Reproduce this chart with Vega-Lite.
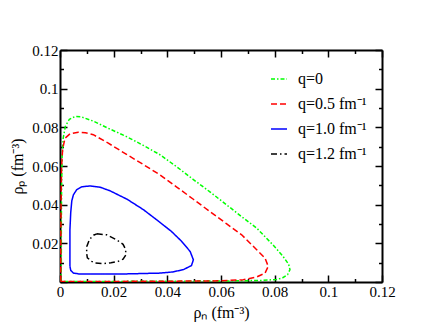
{
  "$schema": "https://vega.github.io/schema/vega-lite/v6.json",
  "width": 322,
  "height": 232,
  "autosize": "none",
  "padding": {"left": 60, "top": 50, "right": 48, "bottom": 50},
  "background": "white",
  "config": {
    "view": {"stroke": null},
    "font": "Liberation Serif",
    "axis": {
      "grid": false,
      "domainColor": "black",
      "domainWidth": 2,
      "tickColor": "black",
      "tickWidth": 1.5,
      "tickSize": -7,
      "labelColor": "black",
      "titleColor": "black",
      "labelFont": "Liberation Serif",
      "titleFont": "Liberation Serif",
      "labelFontSize": 15,
      "titleFontSize": 16,
      "titleFontWeight": "normal"
    },
    "legend": {"labelFont": "Liberation Serif"}
  },
  "data": {"values": [
    {"q":"q=0","rn":0.0004,"rp":0.0003,"i":0},
    {"q":"q=0","rn":0.0005,"rp":0.01,"i":1},
    {"q":"q=0","rn":0.0005,"rp":0.03,"i":2},
    {"q":"q=0","rn":0.0006,"rp":0.05,"i":3},
    {"q":"q=0","rn":0.0008,"rp":0.065,"i":4},
    {"q":"q=0","rn":0.0012,"rp":0.0745,"i":5},
    {"q":"q=0","rn":0.002,"rp":0.0805,"i":6},
    {"q":"q=0","rn":0.0035,"rp":0.0842,"i":7},
    {"q":"q=0","rn":0.0056,"rp":0.0856,"i":8},
    {"q":"q=0","rn":0.008,"rp":0.0854,"i":9},
    {"q":"q=0","rn":0.0124,"rp":0.0832,"i":10},
    {"q":"q=0","rn":0.018,"rp":0.0795,"i":11},
    {"q":"q=0","rn":0.0248,"rp":0.0752,"i":12},
    {"q":"q=0","rn":0.031,"rp":0.0707,"i":13},
    {"q":"q=0","rn":0.0373,"rp":0.0658,"i":14},
    {"q":"q=0","rn":0.0435,"rp":0.0596,"i":15},
    {"q":"q=0","rn":0.0497,"rp":0.053,"i":16},
    {"q":"q=0","rn":0.056,"rp":0.0465,"i":17},
    {"q":"q=0","rn":0.0621,"rp":0.0399,"i":18},
    {"q":"q=0","rn":0.0675,"rp":0.034,"i":19},
    {"q":"q=0","rn":0.0733,"rp":0.0279,"i":20},
    {"q":"q=0","rn":0.0795,"rp":0.019,"i":21},
    {"q":"q=0","rn":0.083,"rp":0.0135,"i":22},
    {"q":"q=0","rn":0.0852,"rp":0.0092,"i":23},
    {"q":"q=0","rn":0.0857,"rp":0.0064,"i":24},
    {"q":"q=0","rn":0.0848,"rp":0.0038,"i":25},
    {"q":"q=0","rn":0.083,"rp":0.0022,"i":26},
    {"q":"q=0","rn":0.0808,"rp":0.0013,"i":27},
    {"q":"q=0","rn":0.075,"rp":0.0008,"i":28},
    {"q":"q=0","rn":0.06,"rp":0.0005,"i":29},
    {"q":"q=0","rn":0.04,"rp":0.0004,"i":30},
    {"q":"q=0","rn":0.02,"rp":0.0003,"i":31},
    {"q":"q=0","rn":0.0004,"rp":0.0003,"i":32},

    {"q":"q=0.5 fm⁻¹","rn":0.0003,"rp":0.0003,"i":0},
    {"q":"q=0.5 fm⁻¹","rn":0.0003,"rp":0.02,"i":1},
    {"q":"q=0.5 fm⁻¹","rn":0.0004,"rp":0.04,"i":2},
    {"q":"q=0.5 fm⁻¹","rn":0.0006,"rp":0.06,"i":3},
    {"q":"q=0.5 fm⁻¹","rn":0.001,"rp":0.069,"i":4},
    {"q":"q=0.5 fm⁻¹","rn":0.0019,"rp":0.0744,"i":5},
    {"q":"q=0.5 fm⁻¹","rn":0.0037,"rp":0.0766,"i":6},
    {"q":"q=0.5 fm⁻¹","rn":0.0068,"rp":0.0775,"i":7},
    {"q":"q=0.5 fm⁻¹","rn":0.0095,"rp":0.0772,"i":8},
    {"q":"q=0.5 fm⁻¹","rn":0.0124,"rp":0.0762,"i":9},
    {"q":"q=0.5 fm⁻¹","rn":0.018,"rp":0.0718,"i":10},
    {"q":"q=0.5 fm⁻¹","rn":0.0248,"rp":0.066,"i":11},
    {"q":"q=0.5 fm⁻¹","rn":0.031,"rp":0.0608,"i":12},
    {"q":"q=0.5 fm⁻¹","rn":0.0373,"rp":0.0554,"i":13},
    {"q":"q=0.5 fm⁻¹","rn":0.0435,"rp":0.0491,"i":14},
    {"q":"q=0.5 fm⁻¹","rn":0.0497,"rp":0.0428,"i":15},
    {"q":"q=0.5 fm⁻¹","rn":0.056,"rp":0.0363,"i":16},
    {"q":"q=0.5 fm⁻¹","rn":0.062,"rp":0.0302,"i":17},
    {"q":"q=0.5 fm⁻¹","rn":0.0677,"rp":0.0244,"i":18},
    {"q":"q=0.5 fm⁻¹","rn":0.0733,"rp":0.0167,"i":19},
    {"q":"q=0.5 fm⁻¹","rn":0.0764,"rp":0.0124,"i":20},
    {"q":"q=0.5 fm⁻¹","rn":0.0776,"rp":0.0081,"i":21},
    {"q":"q=0.5 fm⁻¹","rn":0.0764,"rp":0.0046,"i":22},
    {"q":"q=0.5 fm⁻¹","rn":0.0733,"rp":0.0026,"i":23},
    {"q":"q=0.5 fm⁻¹","rn":0.0683,"rp":0.0012,"i":24},
    {"q":"q=0.5 fm⁻¹","rn":0.06,"rp":0.0006,"i":25},
    {"q":"q=0.5 fm⁻¹","rn":0.04,"rp":0.0004,"i":26},
    {"q":"q=0.5 fm⁻¹","rn":0.02,"rp":0.0003,"i":27},
    {"q":"q=0.5 fm⁻¹","rn":0.0003,"rp":0.0003,"i":28},

    {"q":"q=1.0 fm⁻¹","rn":0.0037,"rp":0.0081,"i":0},
    {"q":"q=1.0 fm⁻¹","rn":0.0037,"rp":0.015,"i":1},
    {"q":"q=1.0 fm⁻¹","rn":0.0037,"rp":0.027,"i":2},
    {"q":"q=1.0 fm⁻¹","rn":0.004,"rp":0.036,"i":3},
    {"q":"q=1.0 fm⁻¹","rn":0.0044,"rp":0.042,"i":4},
    {"q":"q=1.0 fm⁻¹","rn":0.005,"rp":0.0451,"i":5},
    {"q":"q=1.0 fm⁻¹","rn":0.0062,"rp":0.0477,"i":6},
    {"q":"q=1.0 fm⁻¹","rn":0.008,"rp":0.0492,"i":7},
    {"q":"q=1.0 fm⁻¹","rn":0.0112,"rp":0.0497,"i":8},
    {"q":"q=1.0 fm⁻¹","rn":0.015,"rp":0.049,"i":9},
    {"q":"q=1.0 fm⁻¹","rn":0.0186,"rp":0.0472,"i":10},
    {"q":"q=1.0 fm⁻¹","rn":0.025,"rp":0.0428,"i":11},
    {"q":"q=1.0 fm⁻¹","rn":0.0311,"rp":0.0374,"i":12},
    {"q":"q=1.0 fm⁻¹","rn":0.036,"rp":0.0322,"i":13},
    {"q":"q=1.0 fm⁻¹","rn":0.0415,"rp":0.0262,"i":14},
    {"q":"q=1.0 fm⁻¹","rn":0.0452,"rp":0.0212,"i":15},
    {"q":"q=1.0 fm⁻¹","rn":0.0485,"rp":0.0158,"i":16},
    {"q":"q=1.0 fm⁻¹","rn":0.0497,"rp":0.0115,"i":17},
    {"q":"q=1.0 fm⁻¹","rn":0.049,"rp":0.0085,"i":18},
    {"q":"q=1.0 fm⁻¹","rn":0.046,"rp":0.0064,"i":19},
    {"q":"q=1.0 fm⁻¹","rn":0.042,"rp":0.0052,"i":20},
    {"q":"q=1.0 fm⁻¹","rn":0.0373,"rp":0.0046,"i":21},
    {"q":"q=1.0 fm⁻¹","rn":0.025,"rp":0.0042,"i":22},
    {"q":"q=1.0 fm⁻¹","rn":0.015,"rp":0.0041,"i":23},
    {"q":"q=1.0 fm⁻¹","rn":0.007,"rp":0.0042,"i":24},
    {"q":"q=1.0 fm⁻¹","rn":0.005,"rp":0.0046,"i":25},
    {"q":"q=1.0 fm⁻¹","rn":0.004,"rp":0.006,"i":26},
    {"q":"q=1.0 fm⁻¹","rn":0.0037,"rp":0.0081,"i":27},

    {"q":"q=1.2 fm⁻¹","rn":0.0137,"rp":0.0249,"i":0},
    {"q":"q=1.2 fm⁻¹","rn":0.0174,"rp":0.0244,"i":1},
    {"q":"q=1.2 fm⁻¹","rn":0.0211,"rp":0.0218,"i":2},
    {"q":"q=1.2 fm⁻¹","rn":0.0235,"rp":0.0195,"i":3},
    {"q":"q=1.2 fm⁻¹","rn":0.0244,"rp":0.017,"i":4},
    {"q":"q=1.2 fm⁻¹","rn":0.0246,"rp":0.0141,"i":5},
    {"q":"q=1.2 fm⁻¹","rn":0.0235,"rp":0.0118,"i":6},
    {"q":"q=1.2 fm⁻¹","rn":0.0217,"rp":0.0107,"i":7},
    {"q":"q=1.2 fm⁻¹","rn":0.019,"rp":0.01,"i":8},
    {"q":"q=1.2 fm⁻¹","rn":0.0162,"rp":0.0095,"i":9},
    {"q":"q=1.2 fm⁻¹","rn":0.013,"rp":0.0098,"i":10},
    {"q":"q=1.2 fm⁻¹","rn":0.0118,"rp":0.0107,"i":11},
    {"q":"q=1.2 fm⁻¹","rn":0.0102,"rp":0.0125,"i":12},
    {"q":"q=1.2 fm⁻¹","rn":0.0099,"rp":0.015,"i":13},
    {"q":"q=1.2 fm⁻¹","rn":0.01,"rp":0.0184,"i":14},
    {"q":"q=1.2 fm⁻¹","rn":0.011,"rp":0.022,"i":15},
    {"q":"q=1.2 fm⁻¹","rn":0.0125,"rp":0.0242,"i":16},
    {"q":"q=1.2 fm⁻¹","rn":0.0137,"rp":0.0249,"i":17}
  ]},
  "layer": [
    {
      "mark": {"type": "line", "strokeWidth": 1.5, "clip": true},
      "encoding": {
        "x": {"field": "rn", "type": "quantitative",
          "scale": {"domain": [0, 0.12], "nice": false, "zero": false},
          "axis": {"orient": "bottom", "title": "ρₙ (fm⁻³)",
            "values": [0,0.01,0.02,0.03,0.04,0.05,0.06,0.07,0.08,0.09,0.1,0.11,0.12],
            "labelExpr": "round(datum.value*100) % 2 == 0 ? format(datum.value, '~g') : ''",
            "tickDash": {"condition": {"test": "round(datum.value*100) % 2 == 0", "value": [20, 0]}, "value": [3.5, 20]},
            "labelPadding": 9, "labelFlush": false, "labelOverlap": false,
            "titleY": 35, "titleBaseline": "alphabetic"}},
        "y": {"field": "rp", "type": "quantitative",
          "scale": {"domain": [0, 0.12], "nice": false, "zero": false},
          "axis": {"orient": "left", "title": "ρₚ (fm⁻³)",
            "values": [0,0.01,0.02,0.03,0.04,0.05,0.06,0.07,0.08,0.09,0.1,0.11,0.12],
            "labelExpr": "datum.value > 0.001 && round(datum.value*100) % 2 == 0 ? format(datum.value, '~g') : ''",
            "tickDash": {"condition": {"test": "round(datum.value*100) % 2 == 0", "value": [20, 0]}, "value": [3.5, 20]},
            "labelPadding": 9, "labelFlush": false, "labelOverlap": false,
            "titleX": -38, "titleBaseline": "alphabetic"}},
        "order": {"field": "i", "type": "quantitative"},
        "color": {"field": "q", "type": "nominal",
          "scale": {"domain": ["q=0", "q=0.5 fm⁻¹", "q=1.0 fm⁻¹", "q=1.2 fm⁻¹"],
                    "range": ["#00ff00", "#ff0000", "#0000ff", "#000000"]},
          "legend": {"title": null, "orient": "none", "legendX": 210, "legendY": 20,
            "symbolType": "stroke", "symbolSize": 256, "symbolStrokeWidth": 1.5,
            "labelFontSize": 16, "labelColor": "black",
            "rowPadding": 8, "labelOffset": 10, "labelLimit": 200}},
        "strokeDash": {"field": "q", "type": "nominal",
          "scale": {"domain": ["q=0", "q=0.5 fm⁻¹", "q=1.0 fm⁻¹", "q=1.2 fm⁻¹"],
                    "range": [[4, 2, 1.5, 2], [6, 3], [1, 0], [6, 3, 1.5, 3]]},
          "legend": {"title": null, "orient": "none", "legendX": 210, "legendY": 20,
            "symbolType": "stroke", "symbolSize": 256, "symbolStrokeWidth": 1.5,
            "labelFontSize": 16, "labelColor": "black",
            "rowPadding": 8, "labelOffset": 10, "labelLimit": 200}}
      }
    },
    {
      "mark": {"type": "line", "opacity": 0},
      "encoding": {
        "x": {"field": "rn", "type": "quantitative",
          "axis": {"orient": "top", "title": null, "labels": false,
            "values": [0,0.01,0.02,0.03,0.04,0.05,0.06,0.07,0.08,0.09,0.1,0.11,0.12],
            "tickDash": {"condition": {"test": "round(datum.value*100) % 2 == 0", "value": [20, 0]}, "value": [3.5, 20]}}},
        "y": {"field": "rp", "type": "quantitative",
          "axis": {"orient": "right", "title": null, "labels": false,
            "values": [0,0.01,0.02,0.03,0.04,0.05,0.06,0.07,0.08,0.09,0.1,0.11,0.12],
            "tickDash": {"condition": {"test": "round(datum.value*100) % 2 == 0", "value": [20, 0]}, "value": [3.5, 20]}}},
        "detail": {"field": "q", "type": "nominal"},
        "order": {"field": "i", "type": "quantitative"}
      }
    }
  ],
  "resolve": {"axis": {"x": "independent", "y": "independent"}}
}
